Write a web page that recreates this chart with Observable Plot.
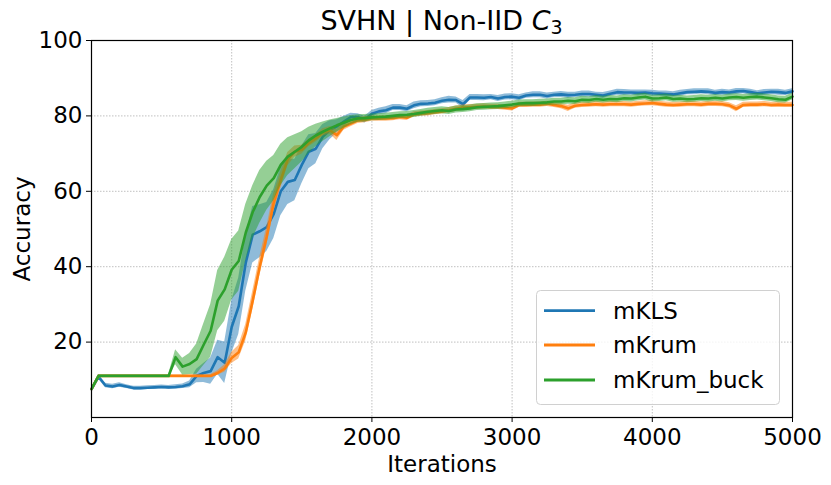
<!DOCTYPE html>
<html>
<head>
<meta charset="utf-8">
<script src="https://cdn.jsdelivr.net/npm/d3@7"></script>
<script src="https://cdn.jsdelivr.net/npm/@observablehq/plot@0.6"></script>
<style>
  html, body { margin: 0; padding: 0; background: #fff; }
  #wrap { position: relative; width: 831px; height: 485px; font-family: "DejaVu Sans", sans-serif; }
  #title { position: absolute; left: 0; top: 0; z-index: 2; }
  #chart { position: absolute; left: 0; top: 0; }
  #legend { position: absolute; left: 536px; top: 290px; z-index: 2; }
</style>
</head>
<body>
<div id="wrap">
  <div id="chart"></div>
  <svg id="title" width="831" height="38">
    <text x="441.5" y="30" text-anchor="middle" font-family="DejaVu Sans" font-size="27" fill="#000">SVHN | Non-IID <tspan font-style="italic">C</tspan><tspan font-size="19" dy="4">3</tspan></text>
  </svg>
  <div id="legend"></div>
</div>
<script>
// ---- data ----
const iterations = d3.range(0, 5001, 50);
const seriesNames = ["mKLS", "mKrum", "mKrum_buck"];
const seriesColors = ["#1f77b4", "#ff7f0e", "#2ca02c"];
const xTicks = [0, 1000, 2000, 3000, 4000, 5000];
const yTicks = [20, 40, 60, 80, 100];

const mklsMean = [
  7.5,10.8,8.5,8.2,8.6,8.2,7.8,7.8,7.9,8.0,
  8.1,8.0,8.1,8.3,8.8,11.0,11.8,12.3,16.0,14.5,
  24,29.5,41,48.5,49.4,50.5,54,60,62.5,63,
  67,70.5,71.3,74.5,76.2,77.2,78.5,79.7,79.7,79.0,
  80.6,81.2,81.5,82.2,82.2,81.9,82.8,83.2,83.3,83.5,
  84.0,84.3,84.2,83.1,84.9,84.9,84.8,85.0,84.6,85.0,
  85.1,84.8,85.4,85.6,85.6,85.3,85.6,85.7,85.5,85.6,
  85.8,85.8,85.6,85.4,85.9,86.3,86.2,86.2,86.1,86.2,
  86.0,85.9,85.8,85.7,86.0,86.3,86.4,86.5,86.4,86.1,
  86.3,86.2,86.5,86.6,86.3,86.0,86.2,86.4,86.3,86.1,
  86.5
];
const mklsSpread = [
  0.4,0.6,0.6,0.6,0.6,0.5,0.5,0.5,0.5,0.5,
  0.5,0.5,0.6,0.6,0.9,1.8,2.5,3.5,4.5,5.5,
  7,7.5,7.5,7.5,7,6.5,6.5,6.5,6,5.5,
  5,4.5,4,3.2,2.5,1.8,1.4,1,0.9,0.9,
  0.8,0.8,0.9,0.8,0.8,0.8,0.9,0.8,0.8,0.8,
  0.8,0.9,0.8,1.0,0.8,0.8,0.8,0.7,0.8,0.8,
  0.8,0.8,0.7,0.8,0.8,0.8,0.7,0.8,0.8,0.7,
  0.8,0.8,0.7,0.8,0.7,0.8,0.8,0.7,0.8,0.7,
  0.8,0.7,0.8,0.7,0.8,0.7,0.8,0.7,0.8,0.7,
  0.8,0.7,0.8,0.7,0.8,0.7,0.8,0.7,0.8,0.7,
  0.7
];
const mkrumMean = [
  7.5,11,11,11,11,11,11,11,11,11,
  11,11,11,11,11,11,11,11,11.8,13.0,
  15.8,17.3,22.5,31,40,48,57,63,68.5,70.5,
  71,72.8,74,75.6,76.2,74.9,77.2,78,78.8,79,
  79.3,79.3,79.3,79.4,79.7,79.5,80.4,80.6,80.7,81.0,
  81.2,81.5,81.9,82.2,82.3,82.4,82.5,82.4,82.4,82.2,
  82.0,82.9,82.9,83.0,83.0,83.2,82.9,82.6,82.0,82.7,
  82.9,83.0,83.1,83.0,83.1,83.1,83.1,83.0,83.2,83.3,
  83.4,83.2,83.0,82.9,83.0,83.1,83.1,83.0,83.2,83.2,
  83.1,82.8,81.9,82.9,83.0,83.0,83.1,82.9,83.0,82.9,
  82.9
];
const mkrumSpread = [
  0.4,0.4,0.4,0.4,0.4,0.4,0.4,0.4,0.4,0.4,
  0.4,0.4,0.4,0.4,0.4,0.4,0.4,0.4,0.6,1.0,
  1.5,1.8,2.2,2.5,2.5,2.5,2.5,2.2,1.8,1.5,
  1.2,1.0,1.0,1.0,1.0,1.4,1.0,0.9,0.8,0.8,
  0.7,0.7,0.7,0.7,0.7,0.7,0.7,0.7,0.7,0.7,
  0.7,0.7,0.7,0.7,0.7,0.7,0.7,0.7,0.7,0.7,
  0.7,0.7,0.7,0.7,0.7,0.7,0.7,0.7,0.8,0.7,
  0.7,0.7,0.7,0.7,0.7,0.7,0.7,0.7,0.7,0.7,
  0.7,0.7,0.7,0.7,0.7,0.7,0.7,0.7,0.7,0.7,
  0.7,0.7,0.8,0.7,0.7,0.7,0.7,0.7,0.7,0.7,
  0.7
];
const mkrumBuckMean = [
  7.5,11,11,11,11,11,11,11,11,11,
  11,11,16,13.5,14.2,15.5,19.3,23,31,34,
  39.2,41.5,49,54.5,58.5,61.5,63.5,67,69.2,70.5,
  71.8,73.5,74.8,75.8,76.7,77.5,78.2,78.9,79.3,79.4,
  79.6,79.7,79.8,80.0,80.2,80.3,80.5,80.8,81.1,81.3,
  81.5,81.3,81.7,81.8,82.0,82.3,82.4,82.5,82.6,82.8,
  83.0,83.3,83.4,83.4,83.5,83.6,83.8,83.8,84.0,83.9,
  84.3,84.2,84.5,84.3,84.5,84.4,84.7,84.6,84.9,85.1,
  84.6,84.7,84.9,84.5,84.6,84.4,84.5,84.7,84.6,84.8,
  84.6,84.9,85.0,84.8,85.0,85.1,84.9,84.7,84.4,84.3,
  85.1
];
const mkrumBuckSpread = [
  0.4,0.4,0.4,0.4,0.4,0.4,0.4,0.4,0.4,0.4,
  0.4,0.4,2,2.2,2.8,4,5.5,7,8,8.5,
  8,8,7.5,7,7,6.5,6,5.5,5,4.5,
  4,3.5,3,2.6,2.2,1.8,1.5,1.2,1.0,1.0,
  0.9,0.9,0.9,0.9,0.9,0.9,0.9,0.9,0.9,0.9,
  0.9,0.9,0.9,0.9,0.9,0.9,0.9,0.9,0.9,0.9,
  0.9,0.9,0.9,0.9,0.9,0.9,0.9,0.9,0.9,0.9,
  0.9,0.9,0.9,0.9,0.9,0.9,0.9,0.9,0.9,0.9,
  0.9,0.9,0.9,0.9,0.9,0.9,0.9,0.9,0.9,0.9,
  0.9,0.9,0.9,0.9,0.9,0.9,0.9,0.9,0.9,0.9,
  0.9
];

const means = [mklsMean, mkrumMean, mkrumBuckMean];
const spreads = [mklsSpread, mkrumSpread, mkrumBuckSpread];

const rowsBySeries = seriesNames.map((name, s) =>
  iterations.map((it, i) => ({
    name, iter: it, mean: means[s][i],
    lo: means[s][i] - spreads[s][i], hi: means[s][i] + spreads[s][i]
  }))
);

const seriesMarks = rowsBySeries.flatMap((rows, s) => [
  Plot.areaY(rows, {x: "iter", y1: "lo", y2: "hi", fill: seriesColors[s], fillOpacity: 0.5}),
  Plot.line(rows, {x: "iter", y: "mean", stroke: seriesColors[s], strokeWidth: 2.6})
]);

const chart = Plot.plot({
  width: 831,
  height: 485,
  marginLeft: 91,
  marginRight: 39,
  marginTop: 40,
  marginBottom: 68,
  style: {fontFamily: "DejaVu Sans", fontSize: "23px", color: "#000", background: "transparent"},
  x: {domain: [0, 5000]},
  y: {domain: [0, 100]},
  marks: [
    Plot.gridX(xTicks, {stroke: "#b0b0b0", strokeOpacity: 1, strokeDasharray: "1.5,1.5", strokeWidth: 0.8}),
    Plot.gridY(yTicks, {stroke: "#b0b0b0", strokeOpacity: 1, strokeDasharray: "1.5,1.5", strokeWidth: 0.8}),
    ...seriesMarks,
    Plot.frame({stroke: "#000", strokeWidth: 1.2}),
    Plot.axisX(xTicks, {tickSize: 5, tickPadding: 6, label: null, fontSize: 23, tickFormat: d => String(d)}),
    Plot.axisY(yTicks, {tickSize: 5, tickPadding: 4, label: null, fontSize: 23, tickFormat: d => String(d)}),
    Plot.text(["Iterations"], {frameAnchor: "bottom", lineAnchor: "middle", textAnchor: "middle", dy: 47, fontSize: 23, fill: "#000"}),
    Plot.text(["Accuracy"], {frameAnchor: "left", lineAnchor: "middle", textAnchor: "middle", dx: -69, rotate: -90, fontSize: 23, fill: "#000"})
  ]
});
document.getElementById("chart").appendChild(chart);

// legend
const legendW = 243, legendH = 114, rowY = [20.7, 55, 90];
const lg = d3.select("#legend").append("svg").attr("width", legendW + 2).attr("height", legendH + 2);
lg.append("rect").attr("x", 0.5).attr("y", 0.5).attr("width", legendW).attr("height", legendH)
  .attr("rx", 4).attr("fill", "#fff").attr("fill-opacity", 0.8).attr("stroke", "#d0d0d0").attr("stroke-width", 1);
seriesNames.forEach((name, s) => {
  lg.append("line").attr("x1", 8).attr("x2", 59).attr("y1", rowY[s]).attr("y2", rowY[s])
    .attr("stroke", seriesColors[s]).attr("stroke-width", 2.8);
  lg.append("text").attr("x", 77).attr("y", rowY[s]).attr("dy", "0.35em")
    .attr("font-family", "DejaVu Sans").attr("font-size", 23).attr("fill", "#000").text(name);
});
</script>
</body>
</html>
